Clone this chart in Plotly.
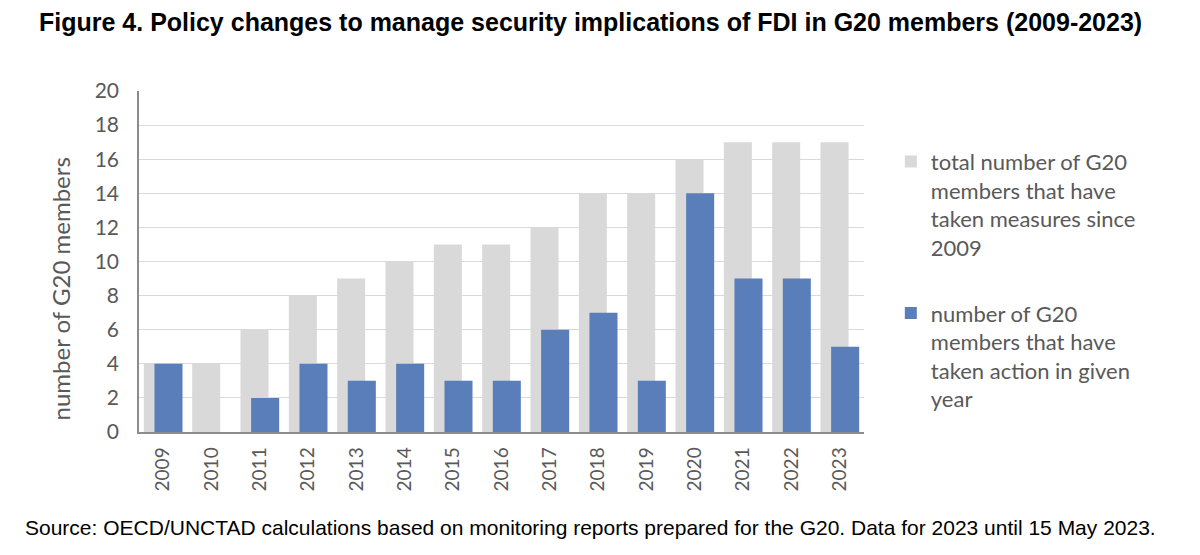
import plotly.graph_objects as go

years = ["2009", "2010", "2011", "2012", "2013", "2014", "2015", "2016",
         "2017", "2018", "2019", "2020", "2021", "2022", "2023"]
total_since_2009 = [4, 4, 6, 8, 9, 10, 11, 11, 12, 14, 14, 16, 17, 17, 17]
action_in_year = [4, 0, 2, 4, 3, 4, 3, 3, 6, 7, 3, 14, 9, 9, 5]

name_total = "total number of G20<br>members that have<br>taken measures since<br>2009"
name_action = "number of G20<br>members that have<br>taken action in given<br>year"

GREY = "#d9d9d9"
BLUE = "#5a7eb9"
TXT = "#595959"
FONT = "Lato"

fig = go.Figure()
fig.add_trace(go.Bar(
    x=years, y=total_since_2009, name=name_total, legendgroup="a",
    marker=dict(color=GREY, line=dict(width=0)),
    width=0.58, offset=-0.40,
))
fig.add_trace(go.Bar(
    x=years, y=action_in_year, name=name_action, legendgroup="b",
    marker=dict(color=BLUE, line=dict(width=0)),
    width=0.58, offset=-0.18,
))

fig.update_layout(
    width=1200, height=555,
    margin=dict(l=139, r=336, t=91, b=123),
    paper_bgcolor="white", plot_bgcolor="white",
    barmode="overlay",
    showlegend=True,
    legend=dict(
        x=1.037, y=0.854, xanchor="left", yanchor="top",
        font=dict(family=FONT, size=22, color=TXT),
        valign="top", tracegroupgap=34, itemwidth=30,
        bgcolor="rgba(0,0,0,0)",
    ),
    font=dict(family=FONT, color=TXT),
)
fig.update_xaxes(
    type="category", tickangle=-90,
    tickfont=dict(family=FONT, size=19, color=TXT),
    showline=True, linecolor="#8c8c8c", linewidth=1.5,
    showgrid=False, ticks="", ticklabelstandoff=6,
)
fig.update_yaxes(
    range=[0, 20], dtick=2, tick0=0,
    tickfont=dict(family=FONT, size=21, color=TXT),
    showline=True, linecolor="#8c8c8c", linewidth=1.5,
    showgrid=True, gridcolor="#d9d9d9", gridwidth=1.3,
    zeroline=False, ticks="", ticklabelstandoff=14,
)

fig.add_annotation(
    text="number of G20 members", textangle=-90,
    xref="paper", yref="paper", x=-0.108, y=0.42,
    xanchor="center", yanchor="middle", showarrow=False,
    font=dict(family=FONT, size=24, color=TXT),
)
fig.add_annotation(
    text="<b>Figure 4. Policy changes to manage security implications of FDI in G20 members (2009-2023)</b>",
    xref="paper", yref="paper", x=(590 - 139) / 725, y=1 + (91 - 22) / 341,
    xanchor="center", yanchor="middle", showarrow=False,
    font=dict(family="Liberation Sans", size=25, color="black"),
)
fig.add_annotation(
    text="Source: OECD/UNCTAD calculations based on monitoring reports prepared for the G20. Data for 2023 until 15 May 2023.",
    xref="paper", yref="paper", x=(590 - 139) / 725, y=-(527 - 432) / 341,
    xanchor="center", yanchor="middle", showarrow=False,
    font=dict(family="Liberation Sans", size=21, color="black"),
)

fig.write_html("out.html")
